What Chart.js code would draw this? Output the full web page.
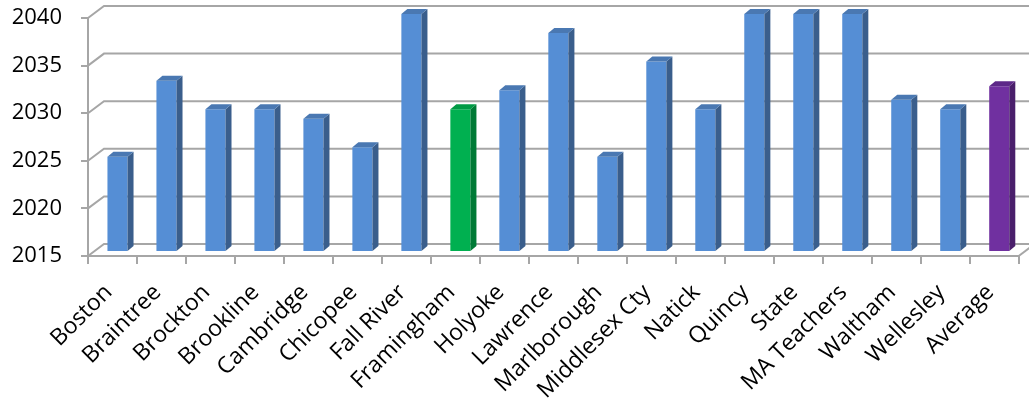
<!DOCTYPE html>
<html>
<head>
<meta charset="utf-8">
<script src="https://cdn.jsdelivr.net/npm/chart.js@4/dist/chart.umd.min.js"></script>
<style>
  html, body { margin: 0; padding: 0; background: #fff; }
  canvas { display: block; }
</style>
</head>
<body>
<canvas id="myChart" width="1029" height="398"></canvas>
<script>
// data
const categories = ['Boston', 'Braintree', 'Brockton', 'Brookline', 'Cambridge', 'Chicopee',
  'Fall River', 'Framingham', 'Holyoke', 'Lawrence', 'Marlborough', 'Middlesex Cty', 'Natick',
  'Quincy', 'State', 'MA Teachers', 'Waltham', 'Wellesley', 'Average'];
const years = [2025, 2033, 2030, 2030, 2029, 2026, 2040, 2030, 2032, 2038, 2025, 2035, 2030,
  2040, 2040, 2040, 2031, 2030, 2032.4];
const yTicks = [2015, 2020, 2025, 2030, 2035, 2040];

// colours: front / side / top
const blue = ['#558ED5', '#3A5E8C', '#4A78B2'];
const green = ['#00B050', '#007A36', '#009A44'];
const purple = ['#7030A0', '#4A1F6B', '#5D2888'];
function colourFor(name) {
  if (name === 'Framingham') return green;
  if (name === 'Average') return purple;
  return blue;
}

const gridColor = '#a6a6a6';
const WALL_DX = 16, WALL_DY = -12;   // back wall offset
const BAR_DX = 5, BAR_DY = -4;       // bars sit half way in
const SIDE_DX = 6, SIDE_DY = -5;     // bar depth

const fake3d = {
  id: 'fake3d',
  beforeDatasetsDraw(chart) {
    const ctx = chart.ctx;
    const area = chart.chartArea;
    const y = chart.scales.y;
    ctx.save();
    ctx.strokeStyle = gridColor;
    ctx.lineWidth = 2;
    yTicks.forEach(v => {
      const py = y.getPixelForValue(v);
      ctx.beginPath();
      ctx.moveTo(area.left, py);
      ctx.lineTo(area.left + WALL_DX, py + WALL_DY);
      ctx.lineTo(chart.width, py + WALL_DY);
      ctx.stroke();
    });
    // right edge of the floor
    ctx.beginPath();
    ctx.moveTo(area.right, area.bottom);
    ctx.lineTo(area.right + WALL_DX, area.bottom + WALL_DY);
    ctx.stroke();
    ctx.restore();
    ctx.save();
    ctx.translate(BAR_DX, BAR_DY);
  },
  afterDatasetsDraw(chart) {
    const ctx = chart.ctx;
    chart.getDatasetMeta(0).data.forEach((bar, i) => {
      const c = colourFor(categories[i]);
      const p = bar.getProps(['x', 'y', 'base', 'width'], true);
      const l = p.x - p.width / 2, r = p.x + p.width / 2;
      ctx.fillStyle = c[1];
      ctx.beginPath();
      ctx.moveTo(r, p.y);
      ctx.lineTo(r + SIDE_DX, p.y + SIDE_DY);
      ctx.lineTo(r + SIDE_DX, p.base + SIDE_DY);
      ctx.lineTo(r, p.base);
      ctx.closePath();
      ctx.fill();
      ctx.fillStyle = c[2];
      ctx.beginPath();
      ctx.moveTo(l, p.y);
      ctx.lineTo(l + SIDE_DX, p.y + SIDE_DY);
      ctx.lineTo(r + SIDE_DX, p.y + SIDE_DY);
      ctx.lineTo(r, p.y);
      ctx.closePath();
      ctx.fill();
    });
    ctx.restore();
  }
};

const ctx = document.getElementById('myChart').getContext('2d');
const yearChart = new Chart(ctx, {
  type: 'bar',
  data: {
    labels: categories,
    datasets: [{
      label: 'Year',
      data: years,
      base: 2015,
      backgroundColor: categories.map(n => colourFor(n)[0]),
      borderWidth: 0,
      categoryPercentage: 1,
      barPercentage: 0.41,
      clip: false
    }]
  },
  plugins: [fake3d],
  options: {
    responsive: false,
    animation: false,
    devicePixelRatio: 1,
    layout: { padding: { top: 18, right: 9, left: 0, bottom: 0 } },
    plugins: { legend: { display: false }, tooltip: { enabled: false } },
    scales: {
      x: {
        type: 'category',
        offset: true,
        grid: { display: true, drawOnChartArea: false, drawTicks: true, tickLength: 8, color: gridColor, lineWidth: 2 },
        border: { display: true, color: gridColor, width: 2 },
        ticks: {
          autoSkip: false, maxRotation: 45, minRotation: 45,
          color: '#000', padding: 15, labelOffset: -4,
          font: { family: '"Open Sans"', size: 23 }
        },
        afterFit: s => { s.height = 142; }
      },
      y: {
        min: 2015,
        max: 2040,
        grid: { display: true, drawOnChartArea: false, drawTicks: true, tickLength: 7, color: gridColor, lineWidth: 2 },
        border: { display: true, color: gridColor, width: 2 },
        ticks: {
          stepSize: 5, color: '#000', padding: 19,
          font: { family: '"Open Sans"', size: 22 },
          callback: v => String(v)
        },
        afterFit: s => { s.width = 88; s.paddingTop = 10; s.paddingBottom = 10; }
      }
    }
  }
});
</script>
</body>
</html>
